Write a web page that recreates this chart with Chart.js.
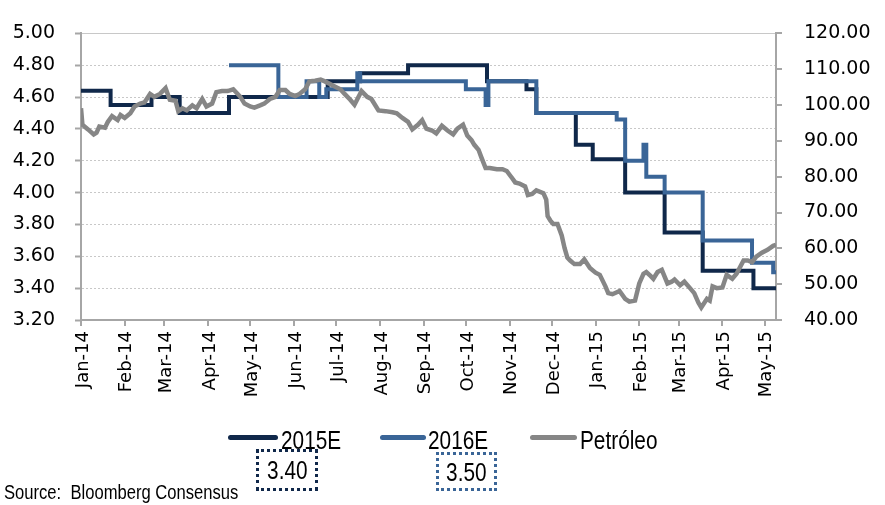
<!DOCTYPE html>
<html>
<head>
<meta charset="utf-8">
<script src="https://cdn.jsdelivr.net/npm/chart.js@4.4.1/dist/chart.umd.min.js"></script>
<style>
    body { margin: 0; background: #fff; }
    #chartContainer { position: relative; width: 885px; height: 505px; background: #fff; }
    .legend-line { position: absolute; height: 5px; border-radius: 3px; }
    .legend-text, .last-box, #source {
        position: absolute;
        font-family: "Liberation Sans", Arial, sans-serif;
        color: #000;
        line-height: 1;
        white-space: pre;
    }
    /* narrow look of the original labels */
    .narrow { display: inline-block; transform: scaleX(0.8); }
    .legend-text .narrow, #source .narrow { transform-origin: left center; }
    #source .narrow { transform: scaleX(0.83); }
    .legend-text { font-size: 26px; }
    .last-box {
        box-sizing: border-box;
        border: 3px dotted;
        font-size: 26px;
        display: flex;
        align-items: center;
        justify-content: center;
    }
    #source { font-size: 20px; }
</style>
</head>
<body>
<div id="chartContainer">
    <canvas id="myChart" width="885" height="505"></canvas>
</div>
<script>
// x values are days counted from 1 Jan 2014
const seriesNames = ['2015E', '2016E', 'Petróleo'];
const monthLabels = ['Jan-14', 'Feb-14', 'Mar-14', 'Apr-14', 'May-14', 'Jun-14', 'Jul-14', 'Aug-14', 'Sep-14',
    'Oct-14', 'Nov-14', 'Dec-14', 'Jan-15', 'Feb-15', 'Mar-15', 'Apr-15', 'May-15'];
const monthStartDay = [0, 31, 59, 90, 120, 151, 181, 212, 243, 273, 304, 334, 365, 396, 424, 455, 485];
const lastDay = 493;

// consensus estimates: value holds from that day until the next change
const est2015Day = [0, 21, 50, 70, 105, 175, 198, 232, 288, 316, 323, 351, 363, 386, 414, 441, 477, 493];
const est2015Value = [4.64, 4.55, 4.60, 4.50, 4.60, 4.70, 4.75, 4.80, 4.70, 4.65, 4.50, 4.30, 4.21, 4.00, 3.75, 3.51, 3.40, 3.40];

const est2016Day = [105, 140, 160, 169, 174, 196, 198, 273, 287, 289, 323, 380, 386, 399, 401, 414, 441, 476, 491, 493];
const est2016Value = [4.80, 4.60, 4.70, 4.60, 4.65, 4.75, 4.70, 4.65, 4.55, 4.70, 4.50, 4.46, 4.20, 4.30, 4.10, 4.00, 3.70, 3.56, 3.50, 3.50];

// oil price (right axis)
const oilDay = [
    0, 1, 5, 9, 11, 13, 17, 19, 22, 26,
    28, 31, 35, 38, 42, 45, 49, 52, 56, 60,
    63, 67, 69, 72, 75, 79, 82, 86, 89, 93,
    96, 100, 104, 108, 113, 116, 120, 123, 127, 130,
    134, 138, 141, 145, 148, 152, 155, 159, 162, 166,
    170, 173, 177, 180, 184, 187, 191, 194, 199, 203,
    206, 211, 216, 221, 224, 228, 232, 235, 239, 242,
    245, 249, 252, 256, 260, 264, 267, 271, 274, 277,
    279, 282, 284, 287, 290, 295, 299, 302, 306, 308,
    311, 315, 317, 320, 323, 328, 330, 331, 333, 335,
    338, 341, 343, 345, 347, 350, 354, 357, 361, 365,
    368, 372, 374, 377, 382, 386, 389, 393, 396, 399,
    401, 404, 406, 409, 412, 416, 419, 421, 425, 428,
    432, 435, 438, 440, 444, 446, 448, 451, 455, 458,
    462, 465, 470, 473, 476, 479, 483, 487, 491, 493
];
const oilValue = [
    99.1, 94.5, 93.2, 91.8, 92.3, 94.0, 93.7, 95.3, 96.9, 95.8,
    97.2, 96.4, 97.7, 99.6, 100.4, 100.7, 103.1, 102.3, 103.1, 104.7,
    101.5, 101.2, 98.3, 99.1, 98.5, 99.9, 99.1, 101.7, 99.6, 100.4,
    103.6, 103.9, 103.9, 104.4, 102.3, 100.4, 99.6, 99.3, 99.9, 100.4,
    101.7, 102.3, 104.2, 104.2, 103.1, 102.5, 103.1, 104.4, 106.6, 106.8,
    107.1, 106.6, 105.8, 105.2, 104.4, 103.1, 101.5, 100.1, 103.9, 102.3,
    101.7, 98.5, 98.3, 98.0, 97.7, 96.4, 95.3, 93.2, 94.5, 95.8,
    93.4, 92.9, 92.1, 94.2, 92.9, 91.8, 93.4, 94.5, 91.5, 90.2,
    88.9, 87.5, 85.4, 82.4, 82.4, 82.1, 82.1, 81.6, 79.5, 78.4,
    78.1, 77.3, 74.9, 75.2, 76.2, 75.4, 73.6, 69.0, 67.7, 66.8,
    66.8, 63.6, 60.1, 57.4, 56.6, 55.6, 55.6, 56.9, 54.5, 53.2,
    52.6, 49.4, 47.5, 47.2, 48.1, 45.9, 45.1, 45.4, 50.2, 52.9,
    53.4, 52.3, 51.5, 53.4, 54.0, 50.2, 50.7, 51.3, 49.7, 50.7,
    48.9, 47.5, 44.8, 43.5, 45.9, 45.4, 49.4, 48.9, 49.1, 52.6,
    51.5, 52.9, 56.6, 56.6, 56.1, 57.7, 58.8, 59.6, 60.7, 61.0
];

const seriesColors = ['#10284A', '#3A6597', '#868686'];
let myChart = null;

function toPoints(days, values) {
    return days.map((d, i) => ({ x: d, y: values[i] }));
}

function createChart() {
    if (myChart !== null) {
        myChart.destroy();
    }

    const axisGrey = '#A6A6A6';
    const ctx = document.getElementById('myChart').getContext('2d');
    myChart = new Chart(ctx, {
        type: 'line',
        data: {
            datasets: [
                {
                    label: seriesNames[0],
                    data: toPoints(est2015Day, est2015Value),
                    yAxisID: 'y',
                    borderColor: seriesColors[0],
                    borderWidth: 4,
                    stepped: true,
                    pointRadius: 0,
                    fill: false,
                    order: 3
                },
                {
                    label: seriesNames[1],
                    data: toPoints(est2016Day, est2016Value),
                    yAxisID: 'y',
                    borderColor: seriesColors[1],
                    borderWidth: 4,
                    stepped: true,
                    pointRadius: 0,
                    fill: false,
                    order: 2
                },
                {
                    label: seriesNames[2],
                    data: toPoints(oilDay, oilValue),
                    yAxisID: 'y1',
                    borderColor: seriesColors[2],
                    borderWidth: 4.5,
                    tension: 0,
                    pointRadius: 0,
                    fill: false,
                    order: 1
                }
            ]
        },
        options: {
            responsive: false,
            animation: false,
            devicePixelRatio: 1,
            layout: {
                padding: { top: 22, left: 0, right: 0, bottom: 0 }
            },
            plugins: {
                legend: { display: false },
                tooltip: { enabled: false }
            },
            scales: {
                x: {
                    type: 'linear',
                    min: 0,
                    max: lastDay,
                    afterBuildTicks: axis => {
                        axis.ticks = monthStartDay.map(v => ({ value: v }));
                    },
                    afterFit: axis => {
                        axis.height = 185;
                    },
                    ticks: {
                        autoSkip: false,
                        minRotation: 90,
                        maxRotation: 90,
                        padding: 5,
                        labelOffset: 2,
                        color: '#000',
                        font: { family: 'DejaVu Sans', size: 18 },
                        callback: (value, index) => monthLabels[index]
                    },
                    grid: {
                        drawOnChartArea: false,
                        tickLength: 6,
                        color: axisGrey,
                        lineWidth: 2
                    },
                    border: { color: axisGrey, width: 2 }
                },
                y: {
                    position: 'left',
                    min: 3.2,
                    max: 5.0,
                    afterFit: axis => {
                        axis.width = 81;
                    },
                    ticks: {
                        stepSize: 0.2,
                        padding: 20,
                        color: '#000',
                        font: { family: 'DejaVu Sans', size: 19 },
                        callback: value => value.toFixed(2)
                    },
                    grid: {
                        color: '#C8C8C8',
                        lineWidth: 1,
                        tickLength: 6,
                        tickColor: axisGrey,
                        tickWidth: 2
                    },
                    border: {
                        color: axisGrey,
                        width: 2,
                        dash: c => (c.tick && c.tick.value > 4.99) ? [] : [2, 2]
                    }
                },
                y1: {
                    position: 'right',
                    min: 40,
                    max: 120,
                    afterFit: axis => {
                        axis.width = 109;
                    },
                    ticks: {
                        stepSize: 10,
                        padding: 22,
                        color: '#000',
                        font: { family: 'DejaVu Sans', size: 19 },
                        callback: value => value.toFixed(2)
                    },
                    grid: {
                        drawOnChartArea: false,
                        tickLength: 6,
                        color: axisGrey,
                        lineWidth: 2
                    },
                    border: { color: axisGrey, width: 2 }
                }
            }
        }
    });
}

function narrowSpan(text) {
    const s = document.createElement('span');
    s.className = 'narrow';
    s.textContent = text;
    return s;
}

function addLegendAndNotes() {
    const box = document.getElementById('chartContainer');
    const lineLeft = [228, 380, 530];
    const lineWidth = [50, 46, 47];
    const textLeft = [281, 428, 580];

    seriesNames.forEach((name, i) => {
        const line = document.createElement('div');
        line.className = 'legend-line';
        line.style.left = lineLeft[i] + 'px';
        line.style.top = '435px';
        line.style.width = lineWidth[i] + 'px';
        line.style.background = seriesColors[i];
        box.appendChild(line);

        const text = document.createElement('div');
        text.className = 'legend-text';
        text.style.left = textLeft[i] + 'px';
        text.style.top = '427px';
        text.appendChild(narrowSpan(name));
        box.appendChild(text);
    });

    // latest consensus values under the legend
    const lastValues = [est2015Value[est2015Value.length - 1], est2016Value[est2016Value.length - 1]];
    const boxPos = [[256, 449, 62, 42], [436, 452, 61, 39]];
    lastValues.forEach((v, i) => {
        const b = document.createElement('div');
        b.className = 'last-box';
        b.style.left = boxPos[i][0] + 'px';
        b.style.top = boxPos[i][1] + 'px';
        b.style.width = boxPos[i][2] + 'px';
        b.style.height = boxPos[i][3] + 'px';
        b.style.borderColor = seriesColors[i];
        b.appendChild(narrowSpan(v.toFixed(2)));
        box.appendChild(b);
    });

    const source = document.createElement('div');
    source.id = 'source';
    source.style.left = '4px';
    source.style.top = '482px';
    source.appendChild(narrowSpan('Source:  Bloomberg Consensus'));
    box.appendChild(source);
}

createChart();
addLegendAndNotes();
</script>
</body>
</html>
